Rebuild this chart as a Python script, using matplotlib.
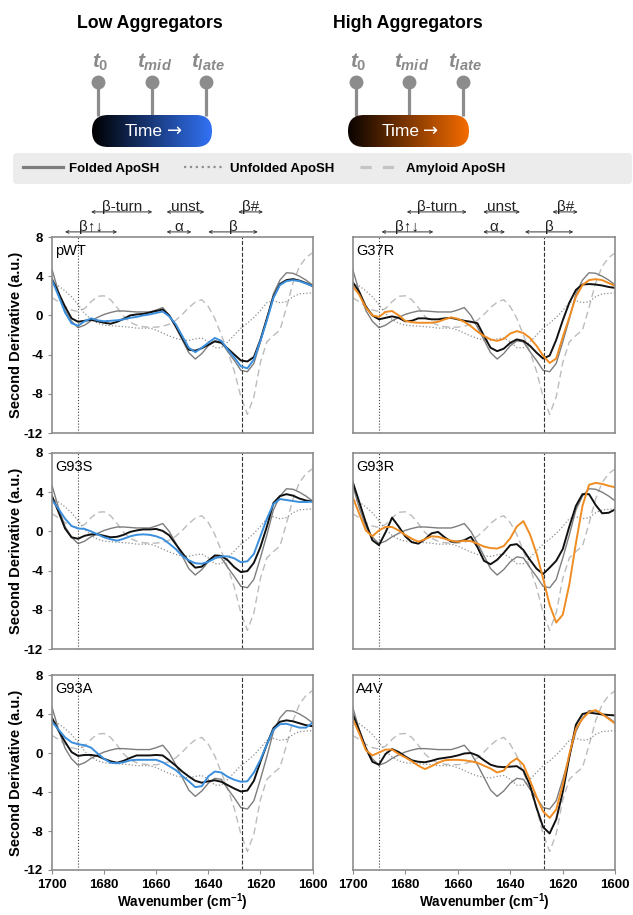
import numpy as np
import matplotlib
matplotlib.use("Agg")
import matplotlib.pyplot as plt
from matplotlib.colors import LinearSegmentedColormap
from matplotlib.patches import FancyBboxPatch
from matplotlib.lines import Line2D
from matplotlib import transforms

plt.rcParams['font.family'] = ['Liberation Sans', 'DejaVu Sans']
plt.rcParams['axes.unicode_minus'] = False
plt.rcParams['mathtext.fontset'] = 'custom'
plt.rcParams['mathtext.rm'] = 'Liberation Sans:bold'
plt.rcParams['mathtext.it'] = 'Liberation Sans:italic:bold'
plt.rcParams['mathtext.bf'] = 'Liberation Sans:bold'

# === 1. Data ===
wavenumber = [1700, 1697.5, 1695, 1692.5, 1690, 1687.5, 1685, 1682.5, 1680, 1677.5,
              1675, 1672.5, 1670, 1667.5, 1665, 1662.5, 1660, 1657.5, 1655, 1652.5,
              1650, 1647.5, 1645, 1642.5, 1640, 1637.5, 1635, 1632.5, 1630, 1627.5,
              1625, 1622.5, 1620, 1617.5, 1615, 1612.5, 1610, 1607.5, 1605, 1602.5, 1600]

# reference spectra (same in every panel)
folded = [4.7, 2.4, 0.5, -0.6, -1.25, -1.0, -0.55, -0.2, 0.1, 0.3,
          0.45, 0.45, 0.4, 0.35, 0.35, 0.35, 0.55, 0.8, 0.0, -1.2,
          -2.5, -3.8, -4.45, -3.9, -3.1, -2.6, -2.7, -3.7, -4.6, -5.6,
          -5.75, -4.9, -2.7, -0.35, 2.2, 3.6, 4.35, 4.3, 4.0, 3.6, 3.1]
unfolded = [3.3, 3.0, 2.5, 1.9, 1.1, 0.2, -0.4, -0.8, -1.0, -1.05,
            -1.1, -1.15, -1.2, -1.3, -1.3, -1.3, -1.5, -1.8, -2.1, -2.35,
            -2.5, -2.55, -2.4, -2.3, -2.7, -3.3, -3.3, -2.7, -2.0, -1.3,
            -0.8, -0.2, 0.5, 1.3, 1.5, 1.3, 1.4, 1.9, 2.2, 2.25, 2.3]
amyloid = [1.8, 1.4, 0.9, 0.55, 0.4, 0.7, 1.4, 1.95, 2.0, 1.6,
           0.8, -0.1, -0.7, -1.0, -1.15, -1.2, -1.2, -1.1, -0.9, -0.5,
           0.1, 0.8, 1.35, 1.6, 0.9, -0.3, -2.0, -3.7, -5.7, -8.3,
           -10.1, -8.3, -4.8, -2.7, -2.05, -1.5, 0.8, 3.3, 5.0, 5.9, 6.4]

# low aggregators: black = early, blue = late
pwt_early = [3.7, 2.3, 0.9, -0.3, -0.65, -0.55, -0.45, -0.6, -0.75, -0.85,
             -0.65, -0.35, 0.0, 0.1, 0.15, 0.3, 0.45, 0.6, 0.0, -1.1,
             -2.3, -3.5, -3.6, -3.35, -3.0, -2.65, -2.8, -3.4, -4.0, -4.6,
             -4.7, -4.25, -2.5, -0.3, 1.9, 3.2, 3.6, 3.7, 3.55, 3.3, 3.0]
pwt_late = [3.6, 2.0, 0.3, -0.8, -1.05, -0.6, -0.3, -0.5, -0.6, -0.55,
            -0.5, -0.4, -0.25, -0.15, 0.0, 0.1, 0.25, 0.4, -0.1, -0.9,
            -2.1, -3.3, -3.75, -3.3, -2.8, -2.3, -2.6, -3.5, -4.3, -5.2,
            -5.4, -4.5, -2.6, -0.5, 1.8, 3.1, 3.5, 3.6, 3.5, 3.25, 3.0]
g93s_early = [3.6, 2.0, 0.3, -0.6, -0.75, -0.45, -0.3, -0.3, -0.45, -0.6,
              -0.55, -0.35, -0.05, 0.1, 0.2, 0.2, 0.25, 0.05, -0.4, -1.3,
              -2.2, -3.05, -3.7, -3.6, -3.0, -2.45, -2.5, -2.95, -3.65, -4.15,
              -4.05, -3.2, -1.6, 0.5, 2.9, 3.6, 3.8, 3.65, 3.35, 3.15, 3.05]
g93s_late = [3.2, 2.3, 1.3, 0.55, 0.3, 0.25, 0.0, -0.3, -0.6, -0.8,
             -0.95, -0.75, -0.5, -0.35, -0.3, -0.35, -0.5, -0.75, -1.25, -1.8,
             -2.5, -2.95, -3.25, -3.3, -3.1, -2.75, -2.55, -2.55, -2.75, -3.15,
             -3.05, -2.3, -0.5, 1.3, 2.8, 3.3, 3.2, 3.1, 3.0, 3.0, 3.05]
g93a_early = [3.6, 2.3, 1.15, 0.1, -0.3, -0.2, -0.2, -0.3, -0.6, -0.85,
              -1.0, -0.8, -0.5, -0.25, -0.25, -0.25, -0.2, -0.25, -0.75, -1.3,
              -1.9, -2.4, -2.85, -3.05, -2.9, -2.8, -2.95, -3.3, -3.65, -3.95,
              -3.85, -2.85, -0.9, 0.9, 2.55, 3.2, 3.35, 3.25, 3.05, 2.85, 2.75]
g93a_late = [3.2, 2.4, 1.6, 1.1, 0.9, 0.8, 0.55, -0.05, -0.6, -1.0,
             -1.05, -0.95, -0.75, -0.7, -0.7, -0.7, -0.7, -0.95, -1.35, -1.75,
             -2.35, -2.9, -3.5, -3.4, -2.4, -1.9, -2.0, -2.45, -2.75, -2.95,
             -2.9, -2.0, -0.7, 0.9, 2.4, 2.95, 3.0, 2.8, 2.6, 2.6, 3.1]

# high aggregators: black = early, orange = late
g37r_early = [3.4, 2.4, 0.9, 0.0, -0.4, -0.25, -0.1, -0.25, -0.6, -0.55,
              -0.3, -0.3, -0.4, -0.4, -0.3, -0.25, -0.4, -0.55, -0.65, -0.8,
              -2.1, -3.3, -3.65, -3.4, -2.8, -2.45, -2.6, -3.1, -3.8, -4.4,
              -4.1, -2.5, -0.5, 1.3, 2.6, 3.15, 3.2, 3.15, 3.05, 2.9, 2.8]
g37r_late = [3.0, 2.1, 0.8, 0.0, -0.15, 0.35, 0.45, 0.0, -0.55, -0.7,
             -0.75, -0.75, -0.75, -0.65, -0.4, -0.2, -0.35, -0.65, -1.1, -1.65,
             -2.1, -2.45, -2.6, -2.4, -1.85, -1.6, -1.8, -2.3, -3.1, -4.1,
             -4.85, -4.4, -2.2, -0.2, 1.9, 3.1, 3.6, 3.7, 3.6, 3.3, 3.0]
g93r_early = [5.05, 3.0, 0.9, -0.9, -1.4, -0.1, 1.4, 0.5, -0.5, -1.1,
              -1.25, -0.8, -0.2, -0.05, -0.6, -1.05, -1.05, -0.9, -0.55, -1.6,
              -3.0, -3.35, -2.9, -2.2, -1.4, -1.3, -1.9, -2.9, -3.8, -4.35,
              -3.7, -3.0, -1.8, 0.5, 2.6, 3.8, 3.8, 2.7, 1.85, 1.9, 2.25]
g93r_late = [3.5, 1.8, 0.1, -0.5, 0.1, 0.45, 0.45, 0.1, -0.35, -0.75,
             -1.05, -0.8, -0.5, -0.55, -0.75, -0.95, -1.05, -0.95, -1.0, -1.25,
             -1.55, -1.7, -1.75, -1.5, -0.7, 0.5, 1.05, -0.3, -2.25, -4.8,
             -7.5, -9.3, -8.5, -5.4, -1.2, 2.6, 4.75, 4.95, 4.85, 4.65, 4.5]
a4v_early = [4.0, 2.3, 0.5, -0.9, -1.2, -0.1, 0.4, 0.1, -0.35, -0.75,
             -0.9, -0.95, -0.8, -0.6, -0.5, -0.4, -0.25, -0.05, 0.0, -0.25,
             -0.75, -1.2, -1.4, -1.45, -1.4, -1.35, -1.8, -3.3, -5.6, -7.6,
             -8.25, -6.8, -4.0, -0.4, 2.9, 4.0, 4.15, 4.05, 3.95, 3.9, 3.85]
a4v_late = [3.5, 2.0, 0.3, -0.25, 0.05, 0.35, 0.35, -0.1, -0.45, -0.85,
            -1.3, -1.65, -1.35, -1.0, -0.75, -0.7, -0.7, -0.75, -0.85, -1.0,
            -1.3, -1.6, -2.0, -1.8, -1.0, -0.55, -1.2, -2.8, -4.5, -6.0,
            -6.65, -5.8, -3.25, -0.1, 2.5, 3.5, 4.2, 4.4, 4.0, 3.5, 3.0]

# band assignment regions (label, start, end, row)
regions_left = [("β↑↓", 1695, 1675, 0), ("β-turn", 1685, 1661.5, 1),
                ("unst", 1656, 1641.5, 1), ("α", 1656, 1646.5, 0),
                ("β", 1640, 1621, 0), ("β#", 1628.5, 1619, 1)]
regions_right = [("β↑↓", 1689, 1669.3, 0), ("β-turn", 1679.4, 1656.6, 1),
                 ("unst", 1650.3, 1636.3, 1), ("α", 1650.3, 1642, 0),
                 ("β", 1634.4, 1616, 0), ("β#", 1623.9, 1614.3, 1)]

marker_dotted = 1690
marker_dashed = 1627
time_labels = [r"$\mathit{t}_{\mathit{0}}$", r"$\mathit{t}_{\mathit{mid}}$", r"$\mathit{t}_{\mathit{late}}$"]

BLUE = "#3b8fdc"
ORANGE = "#ef8c22"
GRAY = "#8c8c8c"

panels = [
    ("pWT", pwt_early, pwt_late, BLUE, 0, 0),
    ("G37R", g37r_early, g37r_late, ORANGE, 0, 1),
    ("G93S", g93s_early, g93s_late, BLUE, 1, 0),
    ("G93R", g93r_early, g93r_late, ORANGE, 1, 1),
    ("G93A", g93a_early, g93a_late, BLUE, 2, 0),
    ("A4V", a4v_early, a4v_late, ORANGE, 2, 1),
]

# === 2. Figure / layout ===
W, H = 633, 915
fig = plt.figure(figsize=(W / 100, H / 100), dpi=100)

col_x = [(52, 260.5), (352.7, 262.6)]
row_y = [(237, 196), (453, 196), (675, 195)]


def add_regions(ax, regions):
    trans = transforms.blended_transform_factory(ax.transData, ax.transAxes)
    for label, start, end, row in regions:
        yf = 1.128 if row == 1 else 1.026
        ax.annotate("", xy=(end, yf), xytext=(start, yf), xycoords=trans, textcoords=trans,
                    arrowprops=dict(arrowstyle="<->", color="#333333", lw=0.7,
                                    shrinkA=0, shrinkB=0, mutation_scale=5),
                    annotation_clip=False)
        ax.text((start + end) / 2, yf + 0.004, label, transform=trans, ha="center",
                va="baseline", fontsize=11, color="#222222", clip_on=False)


for name, early, late, col, r, c in panels:
    x0, w = col_x[c]
    top, h = row_y[r]
    ax = fig.add_axes([x0 / W, (H - top - h) / H, w / W, h / H])

    ax.plot(wavenumber, amyloid, color="#bcbcbc", lw=1.0, dashes=(5, 3))
    ax.plot(wavenumber, unfolded, color="#8f8f8f", lw=0.9, ls=":")
    ax.plot(wavenumber, folded, color="#7d7d7d", lw=1.0)
    ax.axvline(marker_dotted, color="#444444", lw=0.8, ls=":")
    ax.axvline(marker_dashed, color="#333333", lw=0.8, ls="--")
    ax.plot(wavenumber, early, color="#111111", lw=1.4)
    ax.plot(wavenumber, late, color=col, lw=1.4)

    ax.set_xlim(1700, 1600)
    ax.set_ylim(-12, 8)
    ax.set_xticks([1700, 1680, 1660, 1640, 1620, 1600])
    ax.set_yticks([-12, -8, -4, 0, 4, 8])
    for sp in ax.spines.values():
        sp.set_color(GRAY)
        sp.set_linewidth(1.2)
    ax.tick_params(colors=GRAY, length=3, width=0.8, labelcolor="black", labelsize=9.5)

    if c == 0:
        for lab in ax.get_yticklabels():
            lab.set_fontweight("bold")
        ax.set_ylabel("Second Derivative (a.u.)", fontsize=10.5, fontweight="bold")
        ax.yaxis.set_label_coords(-0.11, 0.5)
    else:
        ax.tick_params(axis="y", length=0, labelleft=False)

    if r == 2:
        for lab in ax.get_xticklabels():
            lab.set_fontweight("bold")
        ax.set_xlabel("Wavenumber (cm$^{-1}$)", fontsize=9.8, fontweight="bold")
        ax.xaxis.set_label_coords(0.5, -0.112)
    else:
        ax.tick_params(axis="x", length=0, labelbottom=False)

    ax.text(0.012, 0.965, name, transform=ax.transAxes, ha="left", va="top", fontsize=10.5)

    if r == 0:
        add_regions(ax, regions_left if c == 0 else regions_right)

# === 3. Header: titles, timelines, legend ===
hdr = fig.add_axes([0, 0, 1, 1], zorder=-1)
hdr.axis("off")

headers = [
    ("Low Aggregators", 150, (92, 212), [98, 152, 206], [100, 155, 208], ["#000000", "#3272f5"]),
    ("High Aggregators", 408, (348, 469), [356, 409, 463], [358, 412, 465], ["#0a0300", "#f56c00"]),
]
grad = np.linspace(0, 1, 256).reshape(1, -1)
for title, cx, (bx0, bx1), stems, labx, cols in headers:
    hdr.text(cx, 23, title, ha="center", va="center", fontsize=12.8, fontweight="bold")
    for sx, lx, tl in zip(stems, labx, time_labels):
        hdr.plot([sx, sx], [82, 116], color=GRAY, lw=2.3, solid_capstyle="butt", zorder=1)
        hdr.plot(sx, 82, "o", color=GRAY, ms=9, zorder=1)
        hdr.text(lx, 62, tl, ha="center", va="center", fontsize=15, color="#8a8a8a")
    cmap = LinearSegmentedColormap.from_list(title, cols)
    im = hdr.imshow(grad, extent=[bx0, bx1, 147, 115], cmap=cmap, aspect="auto", zorder=2)
    box = FancyBboxPatch((bx0, 115), bx1 - bx0, 32, boxstyle="round,pad=0,rounding_size=16",
                         facecolor="none", edgecolor="none", transform=hdr.transData)
    hdr.add_patch(box)
    im.set_clip_path(box)
    mid = (bx0 + bx1) / 2
    hdr.text(mid + 11, 131.5, "Time", ha="right", va="center", fontsize=12.5,
             color="white", zorder=3)
    hdr.text(mid + 15, 131, "→", ha="left", va="center", fontsize=13,
             color="white", family="DejaVu Sans", zorder=3)

hdr.add_patch(FancyBboxPatch((13, 153), 619, 31, boxstyle="round,pad=0,rounding_size=4",
                             facecolor="#ececec", edgecolor="none", zorder=0))
hdr.set_xlim(0, W)
hdr.set_ylim(H, 0)

handles = [Line2D([], [], color="#7d7d7d", lw=2.3),
           Line2D([], [], color="#8f8f8f", lw=1.6, ls=":"),
           Line2D([], [], color="#c4c4c4", lw=2.3, dashes=(3.5, 3.5))]
fig.legend(handles, ["Folded ApoSH", "Unfolded ApoSH", "Amyloid ApoSH"], ncol=3,
           loc="center left", bbox_to_anchor=(23 / W, 1 - 168.5 / H), frameon=False,
           borderpad=0, borderaxespad=0, handlelength=3.0, handletextpad=0.45,
           columnspacing=1.95, prop={"weight": "bold", "size": 9.5})

fig.savefig("out.png", dpi=100)
